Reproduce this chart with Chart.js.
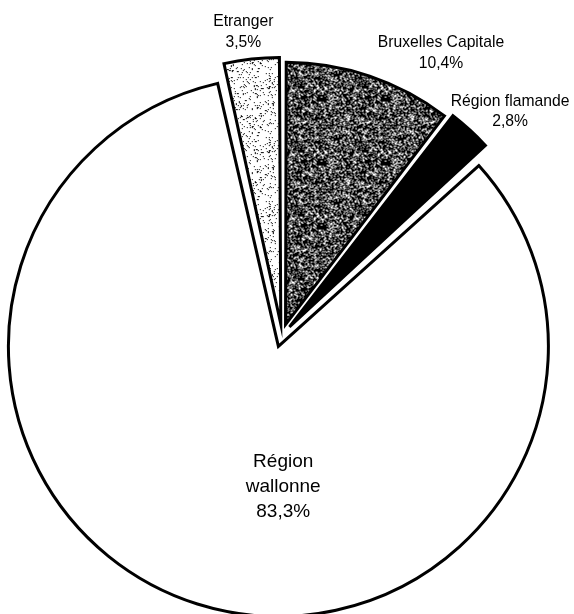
<!DOCTYPE html>
<html>
<head>
<meta charset="utf-8">
<script src="https://cdn.jsdelivr.net/npm/chart.js@4/dist/chart.umd.min.js"></script>
<style>
  body { margin: 0; background: #fff; }
  canvas { display: block; }
</style>
</head>
<body>
<canvas id="pieChart" width="574" height="614"></canvas>
<script>
// data, clockwise from 12 o'clock
const regions = ['Bruxelles Capitale', 'Région flamande', 'Région wallonne', 'Etranger'];
const shares = [10.4, 2.8, 83.3, 3.5];
const shareLabels = ['10,4%', '2,8%', '83,3%', '3,5%'];

// label text lines per slice
const labelLines = [
  ['Bruxelles Capitale', shareLabels[0]],
  ['Région flamande', shareLabels[1]],
  ['Région', 'wallonne', shareLabels[2]],
  ['Etranger', shareLabels[3]]
];
// where labels sit: k = fraction of radius along mid angle, then a small nudge
const labelLayout = [
  { k: 1.231, dx: 57, dy: 19, size: 15.7, lh: 21 },
  { k: 1.24, dx: 12, dy: 13, size: 15.7, lh: 20 },
  { k: 0.553, dx: 44, dy: 16, size: 19, lh: 25 },
  { k: 1.19, dx: -5, dy: 2, size: 15.7, lh: 21 }
];

// stippled fills like the scanned original
function stipple(density) {
  const c = document.createElement('canvas');
  c.width = 64; c.height = 64;
  const g = c.getContext('2d');
  g.fillStyle = '#fff';
  g.fillRect(0, 0, 64, 64);
  g.fillStyle = '#000';
  for (let y = 0; y < 64; y++) {
    for (let x = 0; x < 64; x++) {
      let h = (x * 374761393 + y * 668265263) | 0;
      h = Math.imul(h ^ (h >>> 13), 1274126177);
      h = (h ^ (h >>> 16)) >>> 0;
      if ((h % 1000) / 1000 < density) g.fillRect(x, y, 1, 1);
    }
  }
  return g.createPattern(c, 'repeat');
}

const ctx = document.getElementById('pieChart').getContext('2d');
const fills = [stipple(0.68), '#000', '#fff', stipple(0.1)];

const labelPlugin = {
  id: 'sliceLabels',
  afterDatasetsDraw(chart) {
    const c = chart.ctx;
    const meta = chart.getDatasetMeta(0);
    meta.data.forEach(function (arc, i) {
      const p = arc.getProps(['x', 'y', 'startAngle', 'endAngle', 'outerRadius'], true);
      const mid = (p.startAngle + p.endAngle) / 2;
      const L = labelLayout[i];
      const cx = p.x + Math.cos(mid) * p.outerRadius * L.k + L.dx;
      const cy = p.y + Math.sin(mid) * p.outerRadius * L.k + L.dy;
      const lines = labelLines[i];
      c.save();
      c.fillStyle = '#000';
      c.font = L.size + 'px "Liberation Sans", Arial, sans-serif';
      c.textAlign = 'center';
      c.textBaseline = 'middle';
      const top = cy - (lines.length - 1) * L.lh / 2;
      lines.forEach(function (t, j) { c.fillText(t, cx, top + j * L.lh); });
      c.restore();
    });
  }
};

new Chart(ctx, {
  type: 'pie',
  data: {
    labels: regions,
    datasets: [{
      data: shares,
      backgroundColor: fills,
      borderColor: '#000',
      borderWidth: 3,
      borderJoinStyle: 'miter',
      // chart.js moves an arc by offset/4
      offset: [44, 44, 48, 44],
      clip: false
    }]
  },
  options: {
    responsive: false,
    animation: false,
    radius: 258,
    layout: { padding: { left: 0, right: 10, top: 56, bottom: 0 } },
    plugins: {
      legend: { display: false },
      tooltip: { enabled: false }
    }
  },
  plugins: [labelPlugin]
});
</script>
</body>
</html>
